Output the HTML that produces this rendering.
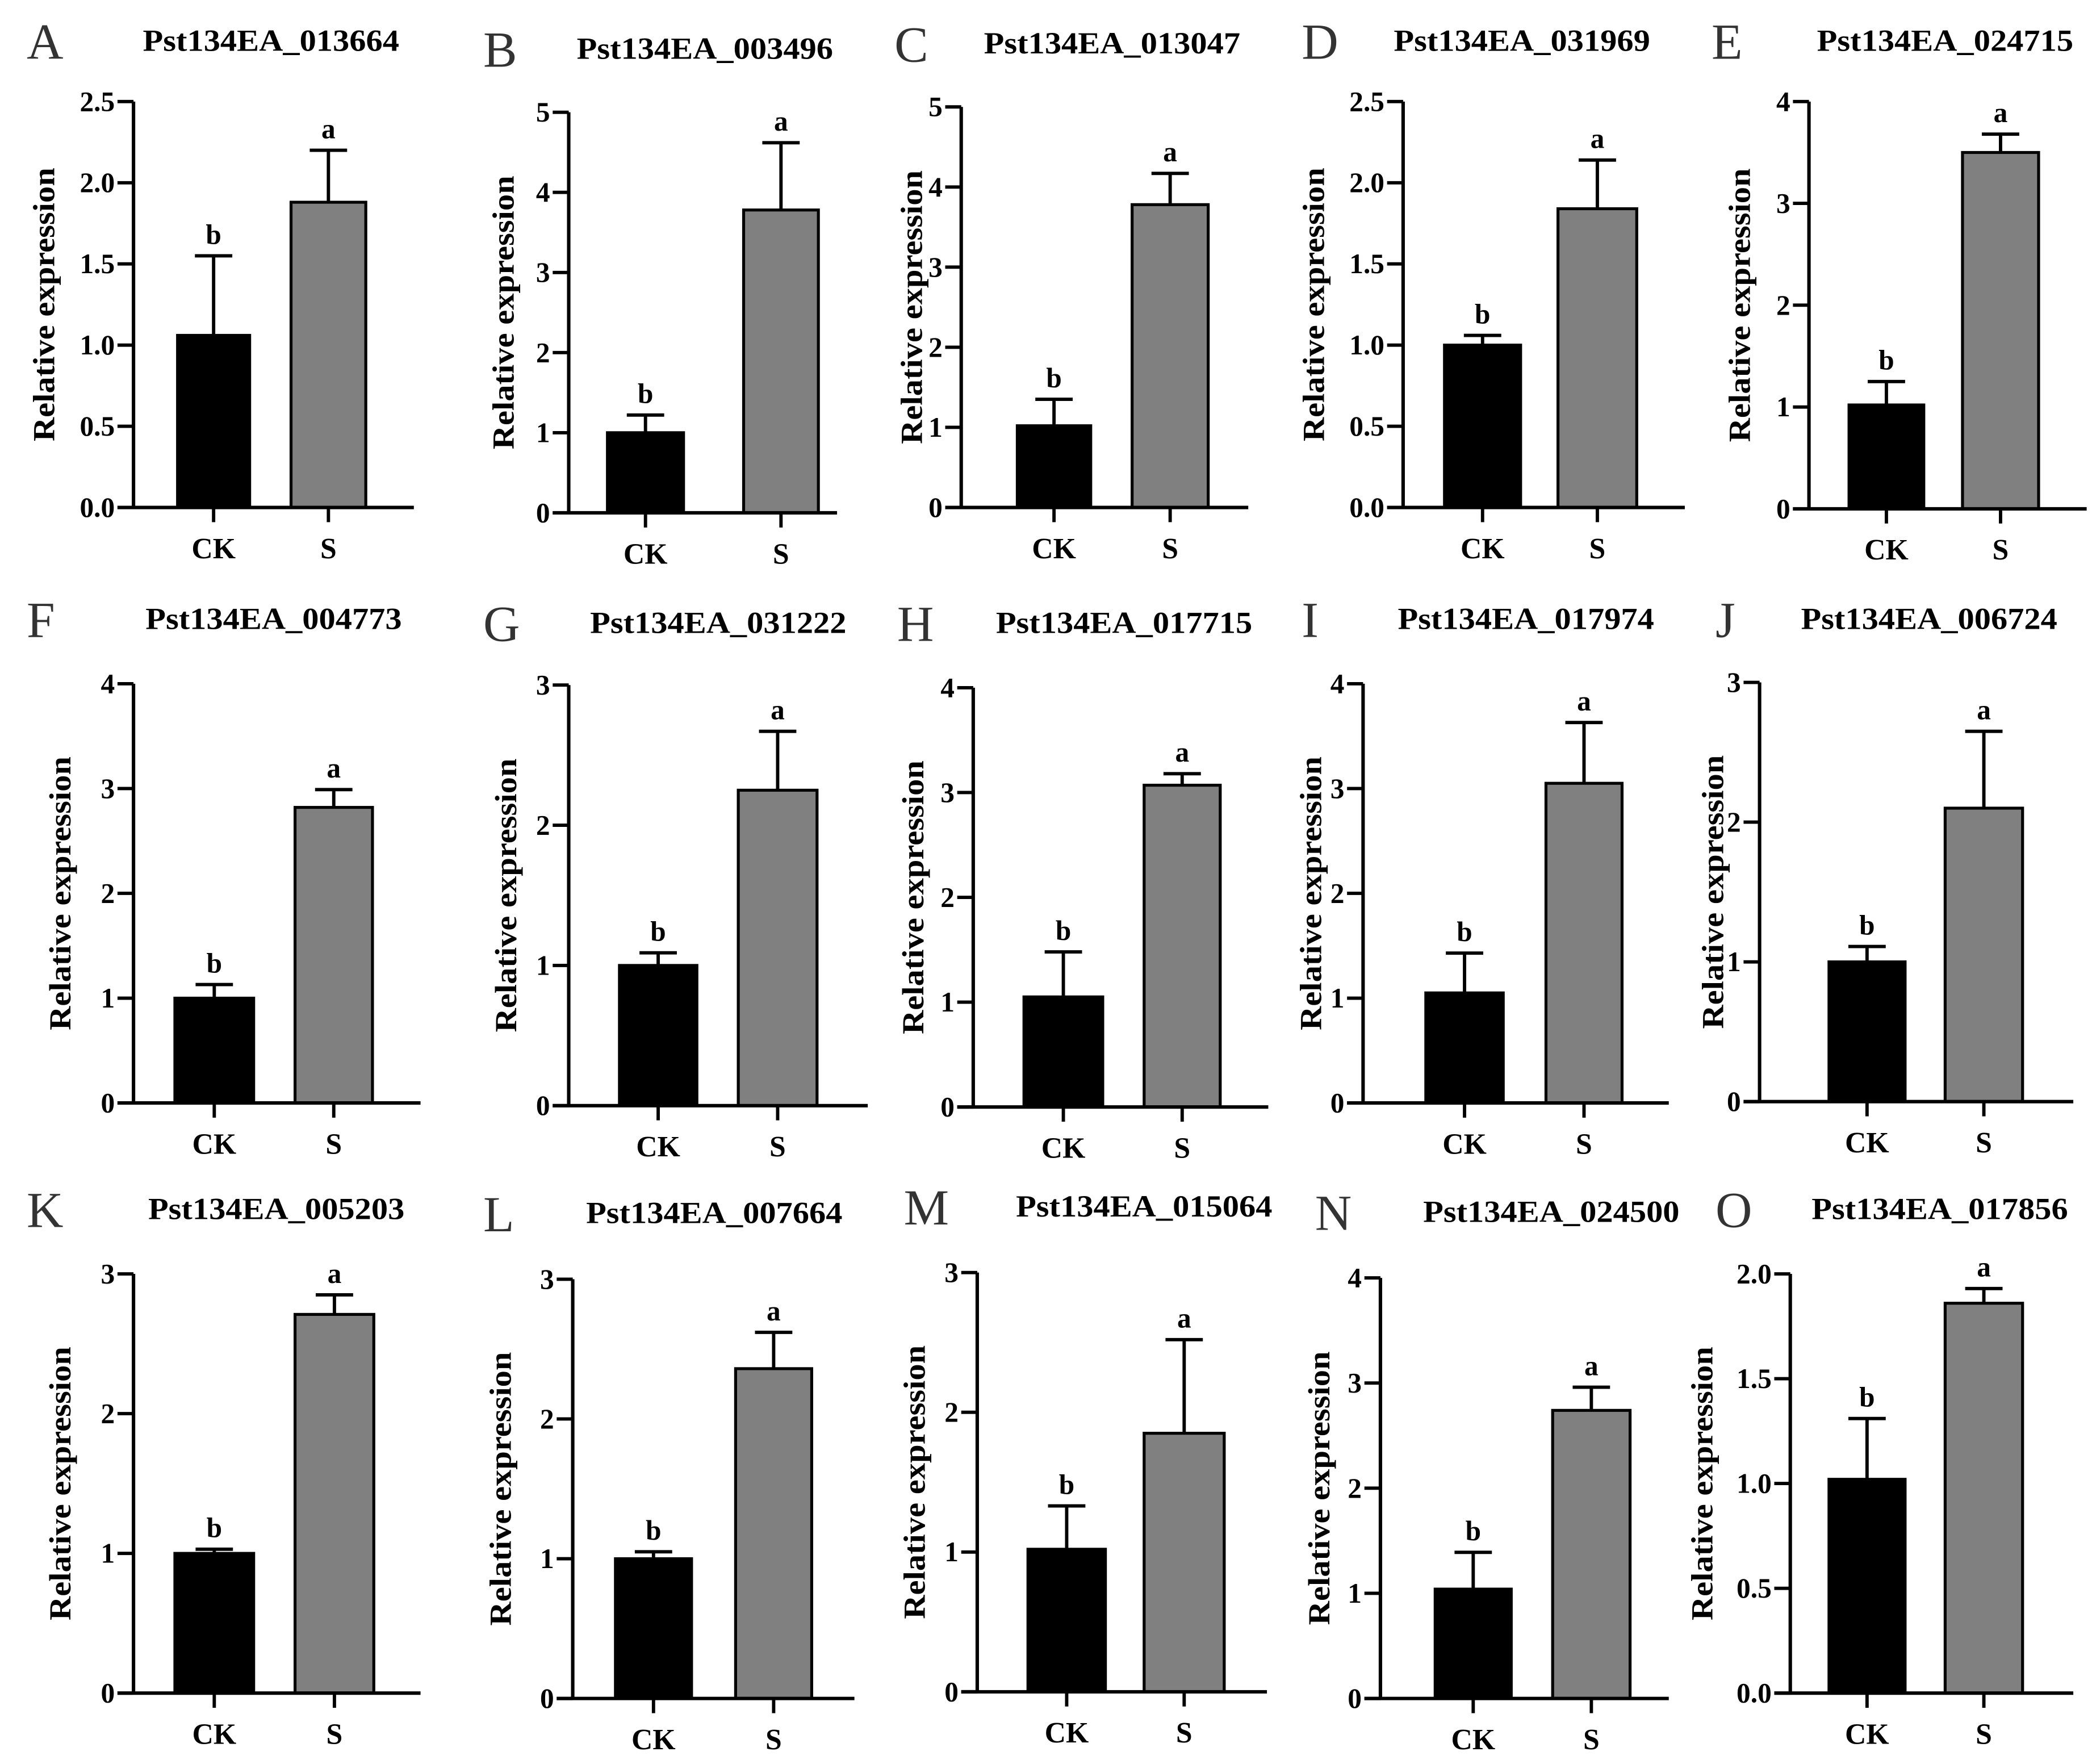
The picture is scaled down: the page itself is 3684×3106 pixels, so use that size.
<!DOCTYPE html>
<html><head><meta charset="utf-8"><style>
html,body{margin:0;padding:0;background:#fff;}
svg{display:block;}
text{font-family:"Liberation Serif","DejaVu Serif",serif;}
</style></head><body>
<svg id="fig" width="3684" height="3106" viewBox="0 0 1567 1321" xmlns="http://www.w3.org/2000/svg"></svg>
<script>
const panelLetters=["A","B","C","D","E","F","G","H","I","J","K","L","M","N","O"];
const geneNames=["Pst134EA_013664","Pst134EA_003496","Pst134EA_013047","Pst134EA_031969","Pst134EA_024715","Pst134EA_004773","Pst134EA_031222","Pst134EA_017715","Pst134EA_017974","Pst134EA_006724","Pst134EA_005203","Pst134EA_007664","Pst134EA_015064","Pst134EA_024500","Pst134EA_017856"];
const categories=["CK","S"];
const ckValues=[1.06,1.0,1.02,1.0,1.02,1.0,1.0,1.05,1.05,1.0,1.0,1.0,1.02,1.04,1.02];
const ckErrTop=[1.55,1.22,1.35,1.06,1.25,1.13,1.09,1.48,1.43,1.11,1.03,1.05,1.33,1.39,1.31];
const sValues=[1.88,3.78,3.78,1.84,3.5,2.82,2.25,3.07,3.05,2.1,2.71,2.36,1.85,2.74,1.86];
const sErrTop=[2.2,4.62,4.17,2.14,3.68,2.99,2.67,3.18,3.63,2.65,2.85,2.62,2.52,2.96,1.93];
const yMax=[2.5,5,5,2.5,4,4,3,4,4,3,3,3,3,4,2.0];
const yStep=[0.5,1,1,0.5,1,1,1,1,1,1,1,1,1,1,0.5];
const sigLabels=["b","a"];

const L=[
 {ax:100,top:76,zero:380,ck:[133,187],s:[218,274],end:310,tx:203,lx:20,yl:33,ty:30},
 {ax:426,top:84,zero:384,ck:[455,512],s:[557,613],end:627,tx:528,lx:362,yl:377,ty:36},
 {ax:720,top:80,zero:380,ck:[762,817],s:[848,905],end:935,tx:833,lx:670,yl:683,ty:32},
 {ax:1051,top:76,zero:380,ck:[1082,1139],s:[1167,1226],end:1262,tx:1140,lx:975,yl:984,ty:30},
 {ax:1355,top:76,zero:381,ck:[1385,1441],s:[1470,1527],end:1563,tx:1457,lx:1282,yl:1303,ty:30},
 {ax:100,top:512,zero:826,ck:[131,190],s:[221,279],end:315,tx:205,lx:20,yl:45,ty:463},
 {ax:426,top:513,zero:828,ck:[464,522],s:[553,612],end:650,tx:538,lx:362,yl:379,ty:466},
 {ax:729,top:515,zero:829,ck:[767,826],s:[857,914],end:950,tx:842,lx:672,yl:684,ty:466},
 {ax:1021,top:512,zero:826,ck:[1068,1126],s:[1158,1215],end:1250,tx:1143,lx:975,yl:982,ty:463},
 {ax:1318,top:511,zero:825,ck:[1370,1427],s:[1457,1515],end:1553,tx:1445,lx:1285,yl:1283,ty:463},
 {ax:100,top:954,zero:1268,ck:[131,190],s:[221,280],end:315,tx:207,lx:20,yl:45,ty:905},
 {ax:429,top:958,zero:1272,ck:[461,518],s:[551,608],end:640,tx:535,lx:362,yl:375,ty:908},
 {ax:732,top:953,zero:1267,ck:[770,828],s:[857,917],end:949,tx:857,lx:677,yl:685,ty:903},
 {ax:1034,top:957,zero:1272,ck:[1075,1132],s:[1163,1221],end:1250,tx:1162,lx:985,yl:988,ty:907},
 {ax:1341,top:954,zero:1268,ck:[1370,1427],s:[1457,1515],end:1553,tx:1453,lx:1285,yl:1275,ty:905}
];
const NS="http://www.w3.org/2000/svg";
const svg=document.getElementById('fig');
function mk(tag,attrs,parent){const e=document.createElementNS(NS,tag);for(const k in attrs)e.setAttribute(k,attrs[k]);(parent||svg).appendChild(e);return e;}
function btext(parent,x,y,size,anchor,str){
  const t=mk('text',{x:x,y:y,'font-size':size,'font-weight':'bold','text-anchor':anchor},parent);
  t.textContent=str;return t;
}
for(let i=0;i<15;i++){
  const p=L[i];
  const g=mk('g',{});
  
  
  const y=v=>p.zero-(v/yMax[i])*(p.zero-p.top);
  const lt=mk('text',{x:p.lx,y:p.ty+14,'font-size':38,fill:'#333'},g);lt.textContent=panelLetters[i];
  
  const tt=mk('text',{x:p.tx,y:p.ty+8,'font-size':23,'font-weight':'bold','text-anchor':'middle',textLength:192,lengthAdjust:'spacingAndGlyphs'},g);tt.textContent=geneNames[i];
  
  const cy=(p.top+p.zero)/2;
  const yt=mk('text',{x:p.yl,y:cy,'font-size':23,'font-weight':'bold','text-anchor':'middle',textLength:205,lengthAdjust:'spacingAndGlyphs',transform:`rotate(-90 ${p.yl} ${cy})`,'dominant-baseline':'central'},g);yt.textContent="Relative expression";
  
  const vals=[ckValues[i],sValues[i]],errs=[ckErrTop[i],sErrTop[i]],xs=[p.ck,p.s],fills=['#000','#808080'];
  for(let j=0;j<2;j++){
    const [x0,x1]=xs[j],xc=(x0+x1)/2;
    const el=mk('line',{x1:xc,x2:xc,y1:y(vals[j]),y2:y(errs[j]),stroke:'#000','stroke-width':2.5},g);
    
    const cap=mk('line',{x1:xc-14,x2:xc+14,y1:y(errs[j]),y2:y(errs[j]),stroke:'#000','stroke-width':2.5},g);
    
    const r=mk('rect',{x:x0,y:y(vals[j]),width:x1-x0,height:p.zero-y(vals[j]),fill:fills[j],stroke:'#000','stroke-width':2.2},g);
    
    const sl=btext(g,xc,y(errs[j])-9,21,'middle',sigLabels[j]);
    
    const tk=mk('line',{x1:xc,x2:xc,y1:p.zero,y2:p.zero+11,stroke:'#000','stroke-width':2.5},g);
    
    const xl=btext(g,xc,p.zero+38,22,'middle',categories[j]);
    
  }
  const ya=mk('line',{x1:p.ax,x2:p.ax,y1:p.top,y2:p.zero,stroke:'#000','stroke-width':2.6},g);
  
  const xa=mk('line',{x1:p.ax-12,x2:p.end,y1:p.zero,y2:p.zero,stroke:'#000','stroke-width':2.6},g);
  
  const n=Math.round(yMax[i]/yStep[i]);
  for(let k=0;k<=n;k++){
    const v=k*yStep[i],yy=y(v);
    const t=mk('line',{x1:p.ax-12,x2:p.ax,y1:yy,y2:yy,stroke:'#000','stroke-width':2.5},g);
    
    const lb=btext(g,p.ax-14,yy+7,21,'end',yStep[i]<1?v.toFixed(1):String(v));
    
  }
}
</script>
</body></html>
